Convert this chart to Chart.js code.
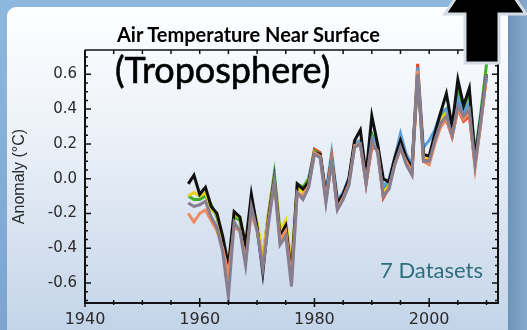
<!DOCTYPE html>
<html>
<head>
<meta charset="utf-8">
<script src="https://cdn.jsdelivr.net/npm/chart.js@4.4.0/dist/chart.umd.min.js"></script>
<style>
  body { margin: 0; width: 527px; height: 330px; overflow: hidden; }
  #wrap { position: relative; width: 527px; height: 330px; overflow: hidden;
          background: linear-gradient(to bottom, #8db7dd, #7ba5cf); }
  #panel { position: absolute; left: 7px; top: 7px; width: 501px; height: 330px;
           border-radius: 9px 0 0 0;
           background: linear-gradient(to bottom, #fdfeff 0%, #eef3f9 35%, #c2d3e8 100%); }
  #side { position: absolute; left: 508px; top: 0; width: 19px; height: 330px;
          background: linear-gradient(to right, #6d93b9, #86a9cc); }
  #chart { position: absolute; left: 0; top: 0; }
  .txt { position: absolute; font-family: Lato, sans-serif; white-space: nowrap; line-height: 1; }
  #t1 { left: 117px; top: 24px; font-size: 20px; font-weight: bold; color: #000; }
  #t2 { left: 115px; top: 51px; font-size: 36px; color: #000; -webkit-text-stroke: 0.6px #000; }
  #t3 { left: 380px; top: 259px; font-size: 22px; color: #2e6e7a; }
  #arrow { position: absolute; left: 0; top: 0; }
</style>
</head>
<body>
<div id="wrap">
  <div id="panel"></div>
  <div id="side"></div>
  <canvas id="chart" width="527" height="330"></canvas>
  <div class="txt" id="t1">Air Temperature Near Surface</div>
  <div class="txt" id="t2">(Troposphere)</div>
  <div class="txt" id="t3">7 Datasets</div>
  <svg id="arrow" width="527" height="330">
    <polygon points="465,63 465,14 445,14 485,-46 526,14 499,14 499,63"
             fill="#000" stroke="#d4dbe3" stroke-width="3" stroke-linejoin="miter"/>
  </svg>
</div>
<script>
// radiosonde years (5 series) and satellite years (2 series)
const years = [1958, 1959, 1960, 1961, 1962, 1963, 1964, 1965, 1966, 1967,
  1968, 1969, 1970, 1971, 1972, 1973, 1974, 1975, 1976, 1977,
  1978, 1979, 1980, 1981, 1982, 1983, 1984, 1985, 1986, 1987,
  1988, 1989, 1990, 1991, 1992, 1993, 1994, 1995, 1996, 1997,
  1998, 1999, 2000, 2001, 2002, 2003, 2004, 2005, 2006, 2007,
  2008, 2009, 2010];
const satYears = [1979, 1980, 1981, 1982, 1983, 1984, 1985, 1986, 1987,
  1988, 1989, 1990, 1991, 1992, 1993, 1994, 1995, 1996, 1997,
  1998, 1999, 2000, 2001, 2002, 2003, 2004, 2005, 2006, 2007,
  2008, 2009, 2010];

const blackVals = [-0.03, 0.02, -0.09, -0.05, -0.16, -0.20, -0.33, -0.50, -0.19, -0.22,
  -0.38, -0.09, -0.28, -0.54, -0.22, 0.00, -0.33, -0.27, -0.55, -0.03,
  -0.06, -0.02, 0.15, 0.14, -0.10, 0.12, -0.14, -0.09, 0.00, 0.22,
  0.28, 0.02, 0.36, 0.20, 0.00, -0.02, 0.12, 0.22, 0.12, 0.06,
  0.60, 0.14, 0.13, 0.26, 0.38, 0.49, 0.30, 0.57, 0.42, 0.52,
  0.12, 0.35, 0.60];
const greenVals = [-0.10, -0.12, -0.12, -0.10, -0.15, -0.22, -0.36, -0.55, -0.22, -0.24,
  -0.42, -0.12, -0.27, -0.45, -0.20, 0.03, -0.30, -0.30, -0.52, -0.03,
  -0.05, 0.00, 0.16, 0.14, -0.10, 0.12, -0.14, -0.10, -0.02, 0.20,
  0.22, 0.00, 0.26, 0.18, -0.06, -0.03, 0.10, 0.20, 0.10, 0.05,
  0.62, 0.14, 0.12, 0.24, 0.36, 0.40, 0.28, 0.52, 0.40, 0.50,
  0.14, 0.38, 0.66];
const yellowVals = [-0.10, -0.08, -0.10, -0.08, -0.18, -0.20, -0.37, -0.50, -0.20, -0.22,
  -0.38, -0.14, -0.25, -0.45, -0.20, 0.00, -0.30, -0.24, -0.50, -0.05,
  -0.08, -0.02, 0.15, 0.13, -0.10, 0.12, -0.13, -0.10, -0.02, 0.18,
  0.22, -0.01, 0.22, 0.17, -0.08, -0.04, 0.09, 0.18, 0.10, 0.06,
  0.60, 0.12, 0.12, 0.24, 0.34, 0.38, 0.27, 0.45, 0.38, 0.42,
  0.10, 0.34, 0.60];
const salmonVals = [-0.20, -0.25, -0.20, -0.18, -0.24, -0.30, -0.40, -0.55, -0.28, -0.30,
  -0.47, -0.20, -0.30, -0.48, -0.24, -0.02, -0.35, -0.30, -0.58, -0.08,
  -0.10, -0.04, 0.15, 0.13, -0.12, 0.12, -0.17, -0.11, -0.03, 0.19,
  0.20, -0.02, 0.20, 0.16, -0.10, -0.05, 0.08, 0.17, 0.10, 0.04,
  0.62, 0.10, 0.08, 0.20, 0.30, 0.34, 0.24, 0.40, 0.34, 0.38,
  0.06, 0.32, 0.58];
const grayVals = [-0.14, -0.16, -0.15, -0.13, -0.22, -0.28, -0.42, -0.68, -0.25, -0.30,
  -0.50, -0.16, -0.30, -0.52, -0.26, -0.02, -0.38, -0.33, -0.62, -0.08,
  -0.12, -0.05, 0.14, 0.12, -0.14, 0.10, -0.18, -0.12, -0.04, 0.18,
  0.20, -0.03, 0.22, 0.15, -0.10, -0.06, 0.08, 0.18, 0.08, 0.02,
  0.60, 0.10, 0.10, 0.22, 0.32, 0.36, 0.25, 0.42, 0.36, 0.40,
  0.08, 0.33, 0.60];
const blueVals = [0.00, 0.15, 0.14, -0.08, 0.15, -0.12, -0.08, 0.00, 0.20,
  0.22, 0.02, 0.24, 0.20, -0.05, 0.00, 0.12, 0.26, 0.14, 0.08,
  0.64, 0.18, 0.22, 0.28, 0.38, 0.40, 0.30, 0.46, 0.38, 0.44,
  0.12, 0.36, 0.60];
const redVals = [-0.02, 0.17, 0.15, -0.12, 0.10, -0.17, -0.11, -0.02, 0.20,
  0.20, -0.03, 0.18, 0.17, -0.11, -0.05, 0.10, 0.18, 0.10, 0.04,
  0.66, 0.12, 0.10, 0.22, 0.30, 0.34, 0.24, 0.40, 0.33, 0.36,
  0.08, 0.32, 0.60];

const xTicks = [1940, 1960, 1980, 2000];
const yTicks = [-0.6, -0.4, -0.2, 0.0, 0.2, 0.4, 0.6];

function series(label, xs, vals, color) {
    return {
        label: label,
        data: xs.map((yr, i) => ({x: yr, y: vals[i]})),
        borderColor: color,
        borderWidth: 3,
        pointRadius: 0,
        tension: 0,
        fill: false
    };
}

// frame and small tick marks, placed through the chart scales
const framePlugin = {
    id: 'frame',
    afterDatasetsDraw(chart) {
        const {ctx, chartArea: a, scales: {x, y}} = chart;
        ctx.save();
        ctx.strokeStyle = '#111';
        ctx.lineWidth = 2;
        ctx.beginPath();
        ctx.moveTo(a.left, a.top);
        ctx.lineTo(a.left, a.bottom);
        ctx.lineTo(a.right, a.bottom);
        ctx.lineTo(a.right, a.top);
        ctx.stroke();
        ctx.lineWidth = 1.5;
        ctx.beginPath();
        ctx.moveTo(a.left, a.top);
        ctx.lineTo(a.right, a.top);
        ctx.stroke();

        for (let k = -14; k <= 14; k++) {
            const py = y.getPixelForValue(k * 0.05);
            if (py < a.top || py > a.bottom) continue;
            const len = k % 4 === 0 ? 6 : 3;
            ctx.beginPath();
            ctx.moveTo(a.left, py);
            ctx.lineTo(a.left + len, py);
            ctx.moveTo(a.right, py);
            ctx.lineTo(a.right - len, py);
            ctx.stroke();
        }
        for (let yr = 1940; yr <= 2010; yr += 5) {
            const px = x.getPixelForValue(yr);
            const major = yr % 20 === 0;
            ctx.beginPath();
            ctx.moveTo(px, a.bottom - (major ? 5 : 3));
            ctx.lineTo(px, a.bottom + (major ? 4 : 2));
            ctx.moveTo(px, a.top);
            ctx.lineTo(px, a.top + 4);
            ctx.stroke();
        }
        ctx.restore();
    }
};

new Chart(document.getElementById('chart').getContext('2d'), {
    type: 'line',
    data: {
        datasets: [
            series('Gray', years, grayVals, '#867d8e'),
            series('Salmon', years, salmonVals, '#ee8b60'),
            series('Black', years, blackVals, '#111111'),
            series('Blue', satYears, blueVals, '#5b9dd6'),
            series('Yellow', years, yellowVals, '#e8d31c'),
            series('Green', years, greenVals, '#40ad2a'),
            series('Red', satYears, redVals, '#e4461f')
        ]
    },
    options: {
        responsive: false,
        animation: false,
        layout: {padding: {top: 50, right: 29, left: 0, bottom: 0}},
        plugins: {legend: {display: false}, tooltip: {enabled: false}},
        scales: {
            x: {
                type: 'linear',
                min: 1940,
                max: 2012,
                afterFit: s => { s.height = 27; },
                afterBuildTicks: s => { s.ticks = xTicks.map(v => ({value: v})); },
                grid: {display: false, drawTicks: false},
                border: {display: false},
                ticks: {
                    padding: 7,
                    color: '#2a2a2a',
                    font: {family: 'DejaVu Sans', size: 16},
                    maxRotation: 0,
                    callback: v => String(v)
                }
            },
            y: {
                min: -0.715,
                max: 0.74,
                afterFit: s => { s.width = 85; },
                afterBuildTicks: s => { s.ticks = yTicks.map(v => ({value: v})); },
                grid: {display: false, drawTicks: false},
                border: {display: false},
                title: {
                    display: true,
                    text: 'Anomaly (°C)',
                    color: '#2a2a2a',
                    font: {family: 'Liberation Sans', size: 16},
                    padding: {top: 10, bottom: 0}
                },
                ticks: {
                    padding: 8,
                    color: '#2a2a2a',
                    font: {family: 'DejaVu Sans', size: 15},
                    callback: v => (Math.round(v * 10) / 10).toFixed(1)
                }
            }
        }
    },
    plugins: [framePlugin]
});
</script>
</body>
</html>
